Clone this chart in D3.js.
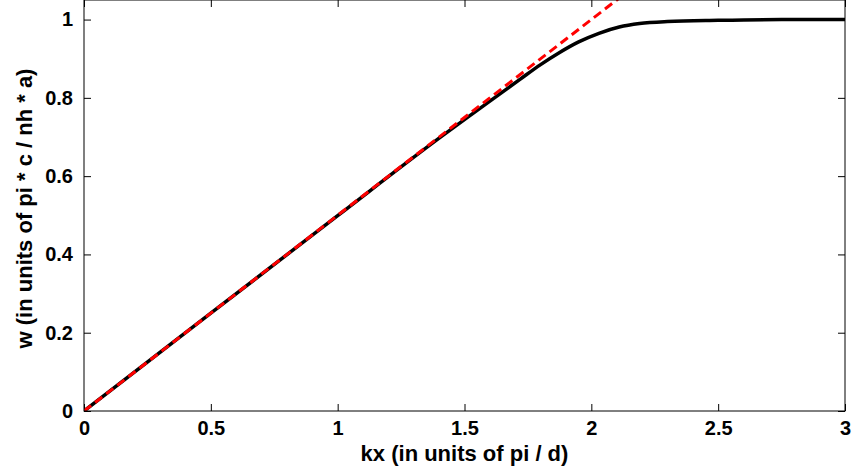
<!DOCTYPE html>
<html>
<head>
<meta charset="utf-8">
<script src="https://cdn.jsdelivr.net/npm/d3@7"></script>
<style>
  html, body { margin: 0; padding: 0; background: #fff; }
  svg text { font-family: "Liberation Sans", Arial, sans-serif; font-weight: bold; }
</style>
</head>
<body>
<div id="chart"></div>
<script>
// данные
var kxValues = [0, 0.5, 1.0, 1.4, 1.55, 1.72, 1.8, 1.875, 1.95, 2.03, 2.11, 2.19, 2.3, 2.5, 2.75, 3.0]
var wValues = [0, 0.25, 0.499, 0.697, 0.768, 0.848, 0.885, 0.916, 0.943, 0.965, 0.981, 0.990, 0.995, 0.998, 1.0, 1.0]
// асимптота (красный пунктир)
var lineKx = [0, 3]
var lineW = [0, 1.5]

var xTicks = [0, 0.5, 1, 1.5, 2, 2.5, 3]
var yTicks = [0, 0.2, 0.4, 0.6, 0.8, 1]
var xLabel = 'kx (in units of pi / d)'
var yLabel = 'w (in units of pi * c / nh * a)'

var width = 852,
    height = 470,
    margin = { left: 84, right: 7, top: 0, bottom: 59 },
    plotW = width - margin.left - margin.right,
    plotH = height - margin.top - margin.bottom,
    tickLen = 7

var svg = d3.select('#chart')
    .append('svg')
    .attr('width', width)
    .attr('height', height)

var x = d3.scaleLinear().domain([0, 3]).range([0, plotW])
var y = d3.scaleLinear().domain([0, 1.05]).range([plotH, 0])

var g = svg.append('g')
    .attr('transform', 'translate(' + margin.left + ',' + margin.top + ')')

svg.append('defs').append('clipPath')
    .attr('id', 'clip')
    .append('rect')
    .attr('x', 0).attr('y', 0)
    .attr('width', plotW).attr('height', plotH)

var fmt = d3.format('~g')

// оси (тики внутрь, как в matlab)
function styleAxis(sel) {
    sel.select('.domain').remove()
    sel.selectAll('.tick line').attr('stroke', '#000').attr('stroke-width', 1)
    sel.selectAll('.tick text')
        .attr('fill', '#000')
        .style('font-size', '20px')
}

var xAxis = g.append('g')
    .attr('transform', 'translate(0,' + plotH + ')')
    .call(d3.axisBottom(x).tickValues(xTicks).tickFormat(fmt).tickSizeInner(-tickLen).tickSizeOuter(0).tickPadding(10))
styleAxis(xAxis)

g.append('g')
    .call(d3.axisTop(x).tickValues(xTicks).tickSizeInner(-tickLen).tickSizeOuter(0).tickFormat(''))
    .call(styleAxis)

var yAxis = g.append('g')
    .call(d3.axisLeft(y).tickValues(yTicks).tickFormat(fmt).tickSizeInner(-tickLen).tickSizeOuter(0).tickPadding(11))
styleAxis(yAxis)

g.append('g')
    .attr('transform', 'translate(' + plotW + ',0)')
    .call(d3.axisRight(y).tickValues(yTicks).tickSizeInner(-tickLen).tickSizeOuter(0).tickFormat(''))
    .call(styleAxis)

// линии
var line = d3.line()
    .x(function (d) { return x(d[0]) })
    .y(function (d) { return y(d[1]) })
    .curve(d3.curveMonotoneX)

var blackData = kxValues.map(function (k, i) { return [k, wValues[i]] })
var redData = lineKx.map(function (k, i) { return [k, lineW[i]] })

var plot = g.append('g').attr('clip-path', 'url(#clip)')

plot.append('path')
    .datum(blackData)
    .attr('d', line)
    .attr('fill', 'none')
    .attr('stroke', '#000')
    .attr('stroke-width', 3.5)

plot.append('path')
    .datum(redData)
    .attr('d', line)
    .attr('fill', 'none')
    .attr('stroke', '#ff0000')
    .attr('stroke-width', 3)
    .attr('stroke-dasharray', '9,5')

// рамка
g.append('rect')
    .attr('x', 0).attr('y', 0)
    .attr('width', plotW).attr('height', plotH)
    .attr('fill', 'none')
    .attr('stroke', '#000')
    .attr('stroke-width', 1)

// подписи осей
svg.append('text')
    .attr('x', margin.left + plotW / 2)
    .attr('y', 461)
    .attr('text-anchor', 'middle')
    .style('font-size', '22px')
    .text(xLabel)

svg.append('text')
    .attr('transform', 'translate(32,' + (margin.top + plotH / 2 + 3) + ') rotate(-90)')
    .attr('text-anchor', 'middle')
    .style('font-size', '22px')
    .text(yLabel)
</script>
</body>
</html>
